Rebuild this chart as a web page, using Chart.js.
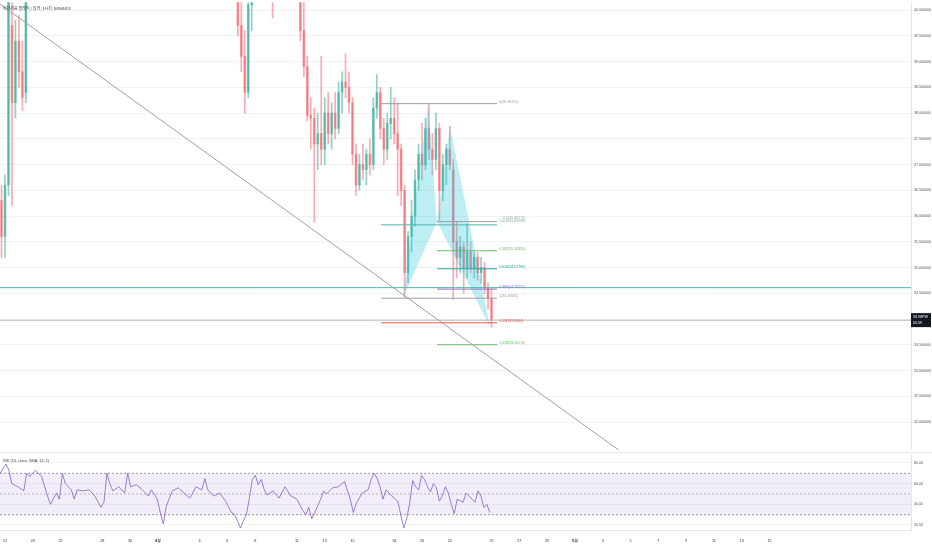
<!DOCTYPE html>
<html lang="ko">
<head>
<meta charset="UTF-8">
<title>ETC 1h</title>
<style>
  body { margin: 0; background: #fff; }
  #wrap { position: relative; width: 932px; height: 550px; overflow: hidden; }
  #priceChart { position: absolute; left: 0; top: 0; }
  #rsiChart { position: absolute; left: 0; top: 452px; }
</style>
</head>
<body>
<div id="wrap">
  <canvas id="priceChart" width="932" height="452"></canvas>
  <canvas id="rsiChart" width="932" height="98"></canvas>
</div>
<script src="https://cdn.jsdelivr.net/npm/chart.js"></script>
<script>
// days counted from 21 Mar; 6h candles
const candleDay = [-0.25,0,0.25,0.5,0.75,1,1.25,1.5, 16.75,17,17.25,17.5,17.75,19.25,
  21.25,21.5,21.75,22,22.25,22.5,22.75,23,23.25,23.5,23.75,24,24.25,24.5,24.75,25,25.25,25.5,25.75,26,26.25,26.5,26.75,27,
  27.25,27.5,27.75,28,28.25,28.5,28.75,29,29.25,29.5,29.75,30,30.25,30.5,30.75,31,31.25,31.5,31.75,32,32.25,32.5,32.75,33,
  33.25,33.5,33.75,34,34.25,34.5,34.75,35];
const candleOpen = [36.3,35.6,36.6,39.7,38.2,39.4,38.8,38.4, 40.6,39.7,39.1,38.4,40.1,40.3,
  40.6,39.6,38.9,37.95,37.9,37.4,37.6,37.3,38.0,37.6,38.0,37.7,38.4,38.6,38.5,38.2,37.2,36.6,37.0,36.9,37.2,37.0,38.1,38.4,
  37.7,37.3,37.8,37.9,37.6,37.3,36.5,34.9,35.6,36.0,36.7,37.2,37.0,37.7,37.3,37.1,37.7,36.5,37.0,37.3,36.9,35.5,35.2,35.4,
  35.0,35.3,35.0,35.2,34.9,35.0,34.6,34.4];
const candleHigh = [36.6,36.8,40.5,40.3,39.8,39.9,39.4,40.6, 40.8,40.3,39.6,40.3,40.6,40.5,
  40.8,40.2,39.1,38.3,38.1,38.0,39.1,38.3,38.4,38.2,38.4,38.6,38.8,39.15,38.8,38.3,37.4,37.2,37.4,37.3,37.5,38.3,38.75,38.5,
  37.9,38.0,38.5,38.3,38.2,37.4,36.6,35.7,36.3,36.9,37.4,37.8,37.9,38.18,37.6,38.0,37.8,37.2,37.4,37.75,37.1,35.9,35.6,35.5,
  35.85,35.5,35.3,35.3,35.2,35.1,34.7,34.6];
const candleLow = [35.2,35.2,36.4,36.2,37.9,38.5,38.05,38.2, 39.5,38.8,38.0,38.3,39.6,39.85,
  39.4,38.7,37.85,37.3,35.88,36.9,37.0,37.0,37.4,37.3,37.5,37.6,38.0,38.3,38.0,37.0,36.4,36.5,36.7,36.6,36.8,36.9,37.9,37.5,
  37.0,37.1,37.5,37.4,36.4,36.2,34.42,34.7,35.3,35.8,36.5,36.7,36.9,37.1,36.8,36.9,35.9,36.3,36.6,36.9,34.38,34.8,34.9,34.5,
  34.8,34.9,34.8,34.75,34.7,34.5,34.2,33.85];
const candleClose = [35.6,36.6,40.3,38.2,39.4,38.8,38.3,40.5, 39.7,39.1,38.4,40.1,40.3,40.2,
  39.6,38.9,37.95,37.9,37.4,37.6,37.3,38.0,37.6,38.0,37.7,38.4,38.6,38.5,38.2,37.2,36.6,37.0,36.9,37.2,37.0,38.1,38.4,37.7,
  37.3,37.8,37.9,37.6,37.3,36.5,34.9,35.6,36.0,36.7,37.2,37.0,37.7,37.3,37.1,37.7,36.5,37.0,37.3,37.0,35.5,35.2,35.4,35.0,
  35.3,35.0,35.2,34.9,35.0,34.6,34.4,33.98];

const rsiDay = [-0.36,0.07,0.28,0.49,0.92,1.35,1.56,1.78,2.20,2.63,3.06,3.27,3.70,3.91,4.13,4.34,4.77,4.98,5.19,5.62,
  6.05,6.47,6.90,7.12,7.33,7.54,7.76,8.18,8.61,8.82,9.04,9.46,9.89,10.32,10.53,10.96,11.17,11.39,11.60,12.03,
  12.46,12.88,13.31,13.74,14.16,14.38,14.59,15.02,15.45,15.87,16.30,16.51,16.73,16.94,17.15,17.37,17.58,17.79,18.01,18.22,
  18.44,18.65,18.86,19.29,19.72,20.14,20.57,21.00,21.43,21.64,21.85,22.07,22.28,22.71,22.92,23.13,23.56,23.99,24.42,24.84,
  25.06,25.27,25.70,26.12,26.34,26.55,26.77,26.98,27.19,27.41,27.83,28.26,28.47,28.69,28.90,29.11,29.33,29.54,29.76,29.97,
  30.18,30.40,30.61,30.82,31.04,31.25,31.46,31.68,31.89,32.11,32.32,32.53,32.96,33.17,33.39,33.60,33.81,34.03,34.24,34.45,
  34.67,34.88];
const rsiValue = [70,79,73,60,57,53,70,67,73,67,48,40,51,45,70,60,54,45,54,53,
  54,48,37,42,70,60,53,57,51,70,57,59,54,48,54,45,32,21,38,53,
  56,51,46,57,54,65,54,48,51,43,32,30,24,17,24,30,46,64,68,59,
  64,54,49,53,46,57,48,45,34,30,37,26,32,45,53,50,56,57,62,45,
  32,41,51,54,64,70,65,57,45,54,48,43,30,17,26,41,63,57,54,68,
  64,57,52,60,56,43,48,57,51,40,31,45,42,51,48,45,42,53,48,37,
  40,32];

// XABCD pattern points
const patternDay = [28.63, 30.43, 31.08, 32.01, 34.89];
const patternPrice = [34.42, 38.18, 35.89, 37.75, 33.85];

// trend line end points
const trendDay = [-0.36, 44.24];
const trendPrice = [40.115, 31.44];

// fib levels
const fibLabels = ['0(38.18315)', '0.5(35.89272)', '2.618(35.86968)', '0.382(35.32655)', '0.618(34.97780)',
  '0.886(34.58232)', '1(34.40581)', '1.13(33.92804)', '1.618(33.50215)'];
const fibPrices = [38.18315, 35.89272, 35.83, 35.32655, 34.97780, 34.58232, 34.40581, 33.92804, 33.50215];
const fibFrom = [27.05, 31.08, 27.05, 31.08, 31.08, 31.08, 27.05, 27.05, 31.08];
const fibTo = [35.4, 35.4, 35.4, 35.4, 35.4, 35.4, 35.4, 35.4, 35.4];

const levelLine = 34.61;
const lastPrice = 33.98;

const yTicks = [32, 32.5, 33, 33.5, 34.5, 35, 35.5, 36, 36.5, 37, 37.5, 38, 38.5, 39, 39.5, 40];
const rsiTicks = [20, 40, 60, 80];
const xTickDays = [0,2,4,7,9,11,14,16,18,21,23,25,28,30,32,35,37,39,41,43,45,47,49,51,53,55];
const xTickLabels = ['21','23','25','28','30','4월','4','6','8','11','13','15','18','20','22','25','27','29','5월','3','5','7','9','11','13','15'];

const X_MIN = -0.36, X_MAX = 65.18;
const FONT = "'Liberation Sans', 'Noto Sans CJK KR', sans-serif";
const upCol = 'rgba(8,153,129,0.45)', downCol = 'rgba(242,54,69,0.42)';
const fibColors = ['#9e9e9e', '#9e9e9e', '#4db6ac', '#66bb6a', '#26a69a', '#9575cd', '#9e9e9e', '#ef5350', '#66bb6a'];

const candleColors = candleOpen.map((o, i) => candleClose[i] >= o ? upCol : downCol);
const pts = (xs, ys) => xs.map((x, i) => ({x: x, y: ys[i]}));

const datasets = [];
datasets.push({
  type: 'bar', data: candleDay.map((d, i) => ({x: d, y: [candleLow[i], candleHigh[i]]})),
  backgroundColor: candleColors, barThickness: 1, grouped: false, order: 2
});
datasets.push({
  type: 'bar', data: candleDay.map((d, i) => ({x: d, y: [Math.min(candleOpen[i], candleClose[i]), Math.max(candleOpen[i], candleClose[i])]})),
  backgroundColor: candleColors, barThickness: 2, grouped: false, order: 2
});
// triangles XAB and BCD
[[0, 1, 2, 0], [2, 3, 4, 2]].forEach(idx => {
  datasets.push({
    type: 'line', data: idx.map(k => ({x: patternDay[k], y: patternPrice[k]})),
    fill: 'shape', backgroundColor: 'rgba(38,198,218,0.3)', borderWidth: 0, pointRadius: 0, order: 1
  });
});
datasets.push({type: 'line', data: pts(trendDay, trendPrice), borderColor: '#a0a0a0', borderWidth: 1, pointRadius: 0, order: 0});
datasets.push({type: 'line', data: pts([X_MIN, X_MAX], [levelLine, levelLine]), borderColor: '#4db6ac', borderWidth: 1, pointRadius: 0, order: 0});
datasets.push({type: 'line', data: pts([X_MIN, X_MAX], [lastPrice, lastPrice]), borderColor: '#b0b0b0', borderWidth: 1, pointRadius: 0, order: 0});
fibPrices.forEach((p, i) => {
  datasets.push({type: 'line', data: pts([fibFrom[i], fibTo[i]], [p, p]), borderColor: fibColors[i], borderWidth: 1, pointRadius: 0, order: 0});
});

const priceText = {
  id: 'priceText',
  afterDraw(chart) {
    const ctx = chart.ctx, xs = chart.scales.x, ys = chart.scales.y;
    ctx.save();
    ctx.textBaseline = 'middle';
    ctx.textAlign = 'left';
    ctx.font = '3.6px ' + FONT;
    fibLabels.forEach((t, i) => {
      if (i === 2) return;
      ctx.fillStyle = fibColors[i];
      ctx.fillText(t, xs.getPixelForValue(fibTo[i]) + (i === 1 ? 6 : 2), ys.getPixelForValue(fibPrices[i]) - (i === 1 ? 4 : 2));
    });
    ctx.fillStyle = '#8aa';
    ctx.fillText(fibLabels[2], xs.getPixelForValue(fibTo[2]) + 2, ys.getPixelForValue(fibPrices[1]) - 1);
    // title
    ctx.fillStyle = '#333';
    ctx.font = "4px 'Noto Sans CJK KR', " + FONT;
    ctx.fillText('이더리움 클래식 / 달러, 1시간, BINANCE', 3, 8);
    // last price box
    const y = ys.getPixelForValue(lastPrice);
    ctx.fillStyle = '#131722';
    ctx.fillRect(911, y - 7, 20, 14);
    ctx.fillStyle = '#fff';
    ctx.font = '3.6px ' + FONT;
    ctx.fillText('33.98PW', 913, y - 3);
    ctx.fillText('05:59', 913, y + 3);
    ctx.restore();
  }
};

// tick gap done with an invisible tick mark so the axis adds no vertical padding
const yGrid = {color: '#f2f3f5', drawTicks: true, tickLength: 3, tickColor: 'rgba(0,0,0,0)'};

new Chart(document.getElementById('priceChart'), {
  type: 'bar',
  data: {datasets: datasets},
  options: {
    responsive: false, animation: false, events: [],
    layout: {padding: 0, autoPadding: false},
    plugins: {legend: {display: false}, tooltip: {enabled: false}},
    scales: {
      x: {type: 'linear', min: X_MIN, max: X_MAX, offset: false, display: false},
      y: {
        position: 'right', min: 31.4615, max: 40.1538,
        afterBuildTicks: s => { s.ticks = yTicks.map(v => ({value: v})); },
        afterFit: s => { s.width = 21; },
        ticks: {callback: v => v.toFixed(6), padding: 0, color: '#555', font: {size: 3.6, family: FONT}},
        grid: yGrid,
        border: {color: '#e3e5ea'}
      }
    }
  },
  plugins: [priceText]
});

const rsiText = {
  id: 'rsiText',
  afterDraw(chart) {
    const ctx = chart.ctx;
    ctx.save();
    ctx.fillStyle = '#e6e7ea';
    ctx.fillRect(0, 0, 932, 1);
    ctx.fillStyle = '#444';
    ctx.font = '3.8px ' + FONT;
    ctx.textBaseline = 'middle';
    ctx.fillText('RSI (14, close, SMA, 14, 2)', 3, 9);
    ctx.restore();
  }
};

new Chart(document.getElementById('rsiChart'), {
  type: 'line',
  data: {
    datasets: [
      {data: pts(rsiDay, rsiValue), borderColor: 'rgba(126,87,194,0.75)', borderWidth: 1, pointRadius: 0, tension: 0},
      {data: pts([X_MIN, X_MAX], [70, 70]), borderColor: '#9a9a9a', borderWidth: 1, borderDash: [2, 2], pointRadius: 0, fill: false},
      {data: pts([X_MIN, X_MAX], [30, 30]), borderColor: '#9a9a9a', borderWidth: 1, borderDash: [2, 2], pointRadius: 0,
        fill: '-1', backgroundColor: 'rgba(126,87,194,0.1)'},
      {data: pts([X_MIN, X_MAX], [50, 50]), borderColor: 'rgba(150,150,150,0.6)', borderWidth: 1, borderDash: [2, 2], pointRadius: 0, fill: false}
    ]
  },
  options: {
    responsive: false, animation: false, events: [],
    layout: {padding: {top: 3}, autoPadding: false},
    plugins: {legend: {display: false}, tooltip: {enabled: false}},
    scales: {
      x: {
        type: 'linear', min: X_MIN, max: X_MAX,
        afterBuildTicks: s => { s.ticks = xTickDays.map(v => ({value: v})); },
        afterFit: s => { s.height = 20; },
        ticks: {
          autoSkip: false, maxRotation: 0, padding: 1, color: '#333',
          callback: (v, i) => xTickLabels[i],
          font: ctx => ({size: 3.8, family: FONT, weight: (xTickLabels[ctx.index] || '').includes('월') ? 'bold' : 'normal'})
        },
        grid: {display: false},
        border: {color: '#e3e5ea'}
      },
      y: {
        position: 'right', min: 15.16, max: 87.74,
        afterBuildTicks: s => { s.ticks = rsiTicks.map(v => ({value: v})); },
        afterFit: s => { s.width = 21; },
        ticks: {callback: v => v.toFixed(2), padding: 0, color: '#555', font: {size: 3.6, family: FONT}},
        grid: yGrid,
        border: {color: '#e3e5ea'}
      }
    }
  },
  plugins: [rsiText]
});
</script>
</body>
</html>
